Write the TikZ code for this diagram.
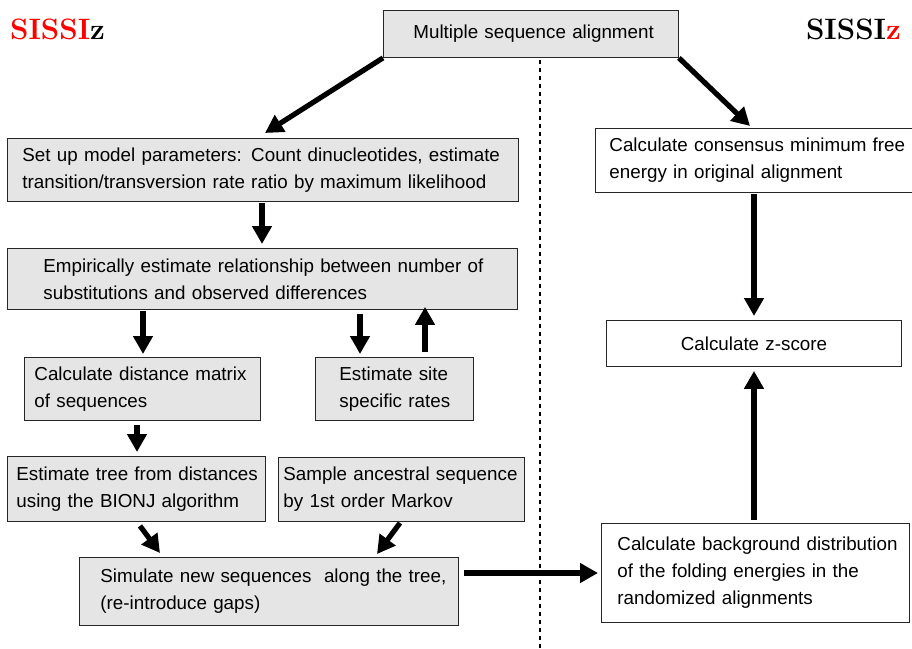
\documentclass[tikz,border=0pt]{standalone}
\usepackage{fontspec}
\setsansfont{Liberation Sans}
\usetikzlibrary{arrows.meta,calc}
\definecolor{boxgray}{RGB}{229,229,229}
\newcommand{\oneline}[1]{\mbox{#1}}
\begin{document}
\begin{tikzpicture}[x=1pt,y=-1pt,
  box/.style={draw=black!85, line width=0.9pt, fill=boxgray, anchor=north west,
    font=\sffamily\fontsize{18.8}{27}\selectfont, align=left, inner ysep=0pt},
  wbox/.style={box, fill=white},
  arr/.style={line width=5.2pt, -{Triangle[length=18pt,width=19pt]}},
  title/.style={font=\fontsize{29.5}{31}\selectfont\bfseries, inner sep=0pt}
]
\useasboundingbox (0,0) rectangle (912,648);
\clip (0,0) rectangle (912,648);

% separator between the two programs
\draw[line width=1.6pt, dash pattern=on 4pt off 4pt] (540,60) -- (540,648);

% program names
\node[title, anchor=base west] (tl) at (10,39) {\textcolor{red}{SISSI}z};
\node[title, anchor=base east] (tr) at (901,39) {SISSI\textcolor{red}{z}};

% boxes (each line kept on one row)
\node[box, minimum width=295pt, minimum height=47pt, text width=235pt, inner xsep=30pt]
  (msa) at (383,10) {\oneline{Multiple sequence alignment}};
\node[box, minimum width=511pt, minimum height=63pt, text width=481pt, inner xsep=15pt]
  (setup) at (7,138) {\oneline{Set up model parameters: Count dinucleotides, estimate}\\\oneline{transition/transversion rate ratio by maximum likelihood}};
\node[box, minimum width=510pt, minimum height=61pt, text width=438pt, inner xsep=36pt]
  (empir) at (7,248) {\oneline{Empirically estimate relationship between number of}\\\oneline{substitutions and observed differences}};
\node[box, minimum width=236pt, minimum height=63pt, text width=216pt, inner xsep=10pt]
  (dist) at (24,357) {\oneline{Calculate distance matrix}\\\oneline{of sequences}};
\node[box, minimum width=158pt, minimum height=63pt, text width=110pt, inner xsep=24pt]
  (site) at (315,357) {\oneline{Estimate site}\\\oneline{specific rates}};
\node[box, minimum width=258pt, minimum height=65pt, text width=240pt, inner xsep=9pt]
  (tree) at (7,456) {\oneline{Estimate tree from distances}\\\oneline{using the BIONJ algorithm}};
\node[box, minimum width=246pt, minimum height=64pt, text width=236pt, inner xsep=5pt]
  (anc) at (278,457) {\oneline{Sample ancestral sequence}\\\oneline{by 1st order Markov}};
\node[box, minimum width=379pt, minimum height=68pt, text width=337pt, inner xsep=21pt]
  (sim) at (79,557) {\oneline{Simulate new sequences\ \ along the tree,}\\\oneline{(re-introduce gaps)}};
\node[wbox, minimum width=330pt, minimum height=64pt, text width=302pt, inner xsep=14pt]
  (cons) at (595,128) {\oneline{Calculate consensus minimum free}\\\oneline{energy in original alignment}};
\node[wbox, align=center, minimum width=295pt, minimum height=46pt, text width=275pt, inner xsep=10pt]
  (zs) at (606,320) {\oneline{Calculate z-score}};
\node[wbox, minimum width=308pt, minimum height=99pt, text width=276pt, inner xsep=16pt]
  (bg) at (601,523) {\oneline{Calculate background distribution}\\\oneline{of the folding energies in the}\\\oneline{randomized alignments}};

% connectors
\draw[arr] (msa.south west) -- ($(setup.north west)+(258,-5)$);
\draw[arr] (msa.south east) -- ($(cons.north west)+(155,-2)$);
\draw[arr] ($(setup.south west)+(255,1)$) -- ($(empir.north west)+(255,-4)$);
\draw[arr] ($(empir.south west)+(136,1)$) -- ($(dist.north west)+(119,-3)$);
\draw[arr] ($(empir.south west)+(353,4)$) -- ($(site.north west)+(45,-3)$);
\draw[arr] ($(site.north west)+(110,-5)$) -- ($(empir.south west)+(418,-3)$);
\draw[arr] ($(dist.south west)+(113,4)$) -- ($(tree.north west)+(130,-4)$);
\draw[arr] ($(tree.south west)+(133,4)$) -- ($(sim.north west)+(81,-4)$);
\draw[arr] ($(anc.south west)+(122,1)$) -- ($(sim.north west)+(298,-3)$);
\draw[arr] ($(sim.north east)+(5,16)$) -- ($(bg.north west)+(-3,50)$);
\draw[arr] ($(cons.south west)+(159,1)$) -- ($(zs.north west)+(148,-4)$);
\draw[arr] ($(bg.north west)+(153,-3)$) -- ($(zs.south west)+(148,4)$);
\end{tikzpicture}
\end{document}
